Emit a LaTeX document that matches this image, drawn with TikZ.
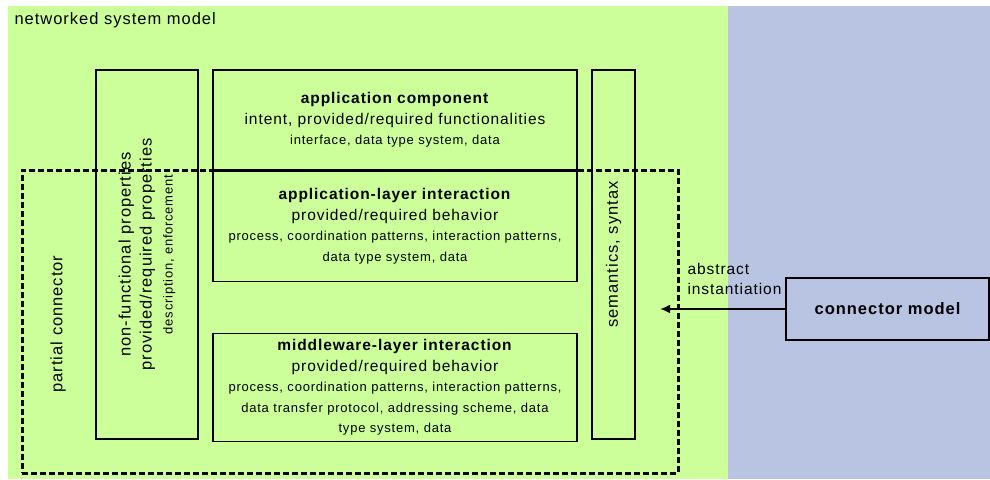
\documentclass[tikz,border=0pt]{standalone}
\usepackage{fontspec}
\setmainfont{Liberation Sans}[LetterSpace=6]
\usetikzlibrary{positioning, arrows.meta}
\definecolor{netgreen}{HTML}{CCFF99}
\definecolor{connblue}{HTML}{B9C4E3}
\newcommand{\titlefont}{\fontsize{16.5}{19}\selectfont}
\newcommand{\boxfont}{\fontsize{15.5}{20.5}\selectfont}
\newcommand{\sidefont}{\fontsize{16.5}{21}\selectfont}
\newcommand{\detailfont}{\fontsize{13}{17.5}\selectfont}

\begin{document}
\begin{tikzpicture}[x=1pt, y=-1pt,
    layer/.style={draw, line width=1.3pt, rectangle, align=center, minimum width=364pt, inner sep=0pt, font=\boxfont},
    side/.style={draw, line width=1.3pt, rectangle, align=center, rotate=90, minimum width=369pt, inner sep=0pt, font=\sidefont},
    partial/.style={draw, line width=3pt, dash pattern=on 6pt off 3pt, minimum width=656pt, minimum height=303pt, inner sep=0pt}]
    \useasboundingbox (0, 0) rectangle (990, 479);
    \fill[netgreen] (8, 6) rectangle (728, 479);
    \fill[connblue] (728, 6) rectangle (990, 479);

    \node (title) [anchor=west, font=\titlefont] at (11, 20) {networked system model};
    \node (pclabel) [rotate=90, font=\sidefont] at (58, 324) {partial connector};
    \node (nfp) [side, minimum height=102pt] at (147, 254.5) {non-functional properties\\ provided/required properties\\ \detailfont description, enforcement};
    \node (appcomp) [layer, minimum height=100pt] at (395, 120) {\textbf{application component}\\ intent, provided/required functionalities\\ \detailfont interface, data type system, data};
    \node (appint) [layer, minimum height=110pt, below=0pt of appcomp] {\textbf{application-layer interaction}\\ provided/required behavior\\ \detailfont process, coordination patterns, interaction patterns,\\ \detailfont data type system, data};
    \node (mwint) [layer, minimum height=108pt, below=51pt of appint] {\textbf{middleware-layer interaction}\\ provided/required behavior\\ \detailfont process, coordination patterns, interaction patterns,\\ \detailfont data transfer protocol, addressing scheme, data\\ \detailfont type system, data};
    \node (sem) [side, minimum height=43pt] at (613.5, 254.5) {semantics, syntax};
    \node (pc) [partial] at (350, 321.5) {};
    \node (conn) [draw, line width=1.3pt, minimum width=203pt, minimum height=62pt, font=\sidefont\bfseries] at (887.5, 309) {connector model};

    \coordinate (target) at (660, 309);
    \draw [-{Latex[length=10pt, width=9pt]}, line width=2pt] (conn.west) -- (target);
    \node (abstr) [anchor=west, align=left, font=\boxfont] at (684, 279) {abstract\\ instantiation};
\end{tikzpicture}
\end{document}
